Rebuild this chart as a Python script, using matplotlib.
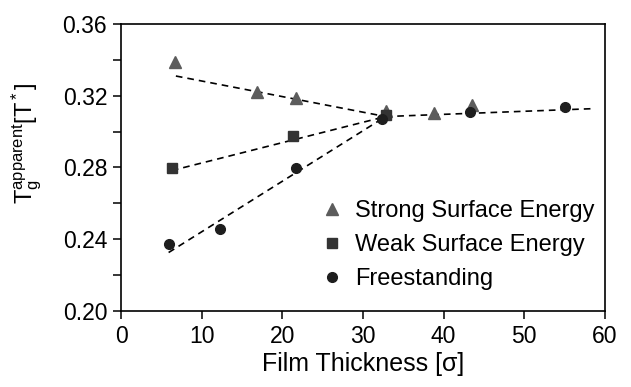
import matplotlib
matplotlib.use("Agg")
import matplotlib.pyplot as plt
from matplotlib.ticker import MultipleLocator

plt.rcParams['font.family'] = ['Liberation Sans', 'DejaVu Sans']
plt.rcParams['mathtext.fontset'] = 'custom'
plt.rcParams['mathtext.rm'] = 'Liberation Sans'
plt.rcParams['mathtext.it'] = 'Liberation Sans'

# measured points
strong_x = [6.7, 16.8, 21.7, 32.8, 38.8, 43.5]
strong_y = [0.339, 0.322, 0.319, 0.3115, 0.3105, 0.315]
weak_x = [6.3, 21.3, 32.9]
weak_y = [0.2795, 0.2975, 0.3095]
free_x = [5.9, 12.3, 21.7, 32.4, 43.3, 55.0]
free_y = [0.2372, 0.2455, 0.2795, 0.307, 0.3112, 0.3136]

# fitted dashed lines (endpoints)
strong_fit_x = [6.8, 32.8]
strong_fit_y = [0.331, 0.3084]
weak_fit_x = [6.3, 32.8]
weak_fit_y = [0.2783, 0.3084]
free_fit_x = [5.9, 32.8]
free_fit_y = [0.2326, 0.3084]
bulk_fit_x = [32.8, 58.5]
bulk_fit_y = [0.3084, 0.3128]

fig = plt.figure(figsize=(6.31, 3.87), dpi=100)
ax = fig.add_axes([0.1918, 0.1964, 0.767, 0.7416])

dash = dict(color='black', linestyle=(0, (4, 3)), linewidth=1.2)
for fx, fy in [(strong_fit_x, strong_fit_y), (weak_fit_x, weak_fit_y),
               (free_fit_x, free_fit_y), (bulk_fit_x, bulk_fit_y)]:
    ax.plot(fx, fy, **dash, zorder=1)

ax.plot(strong_x, strong_y, '^', color='#5c5c5c', markersize=8, linestyle='none',
        label='Strong Surface Energy', zorder=2)
ax.plot(weak_x, weak_y, 's', color='#333333', markersize=6.5, linestyle='none',
        label='Weak Surface Energy', zorder=2)
ax.plot(free_x, free_y, 'o', color='#1e1e1e', markersize=7, linestyle='none',
        label='Freestanding', zorder=3)

ax.set_xlim(0, 60)
ax.set_ylim(0.20, 0.36)
ax.xaxis.set_major_locator(MultipleLocator(10))
ax.yaxis.set_major_locator(MultipleLocator(0.04))
ax.yaxis.set_minor_locator(MultipleLocator(0.02))
ax.yaxis.set_major_formatter(matplotlib.ticker.FormatStrFormatter('%.2f'))
ax.tick_params(which='both', direction='out', length=6, width=1.1,
               labelsize=16.5, pad=4)
for s in ax.spines.values():
    s.set_linewidth(1.2)

ax.set_xlabel('Film Thickness [σ]', fontsize=18, labelpad=3)
ax.set_ylabel(r'$\mathregular{T_g^{apparent}[T^*]}$', fontsize=17)
ax.yaxis.set_label_coords(-0.160, 0.585)

ax.legend(loc='lower left', bbox_to_anchor=(0.416, 0.072), frameon=False,
          fontsize=17, handlelength=0.8, handletextpad=0.6, labelspacing=0.52,
          borderpad=0, borderaxespad=0, numpoints=1)

fig.savefig('out.png', dpi=100)
